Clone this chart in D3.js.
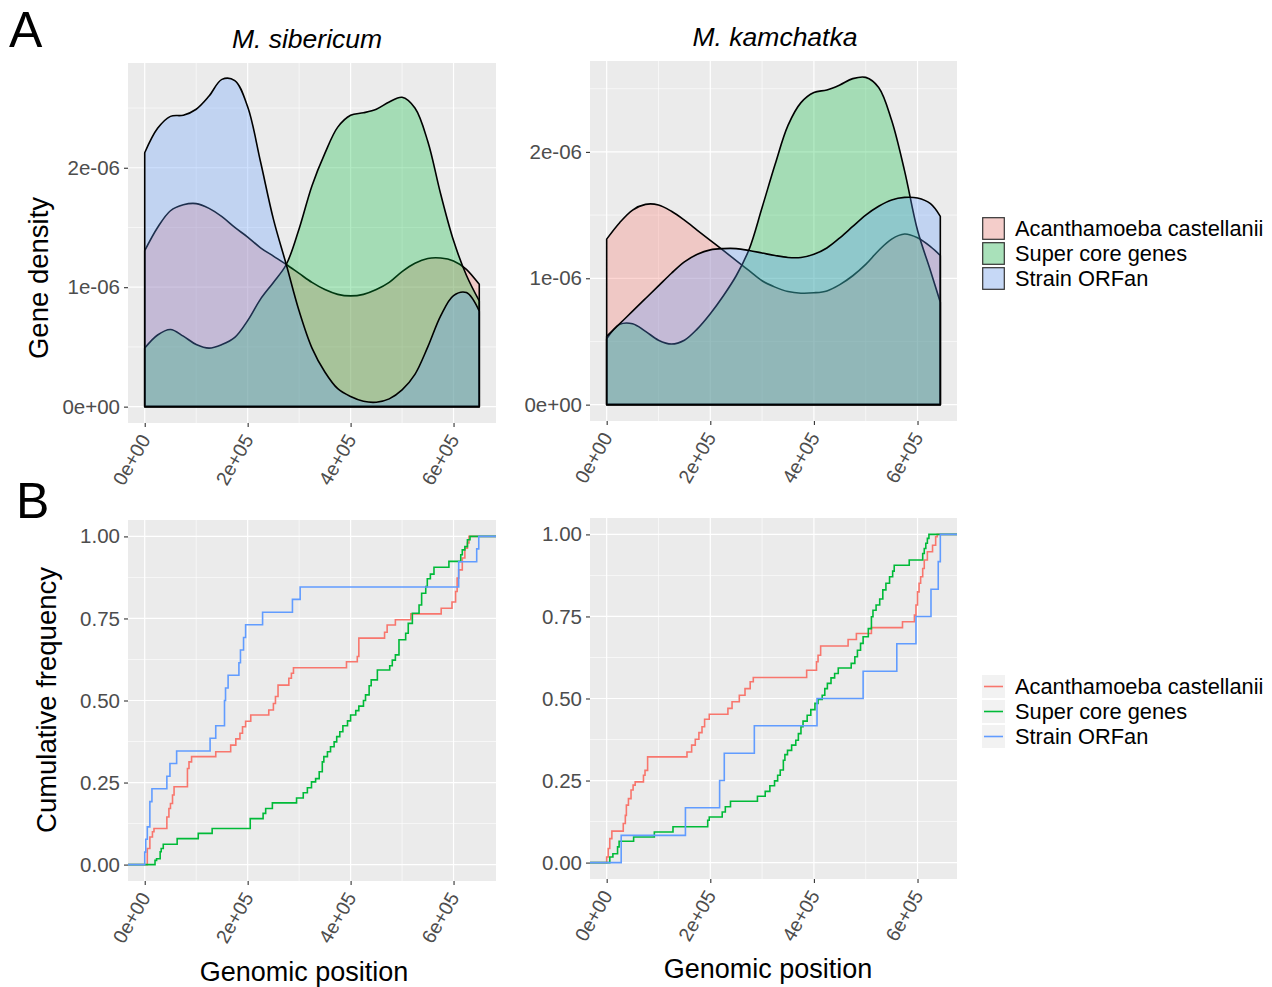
<!DOCTYPE html>
<html>
<head>
<meta charset="utf-8">
<script src="https://cdn.jsdelivr.net/npm/d3@7"></script>
<style>
body { margin: 0; background: #fff; }
text { font-family: "Liberation Sans", Arial, Helvetica, sans-serif; }
</style>
</head>
<body>
<script>
// groups and their ggplot colours
var groups = ["Acanthamoeba castellanii", "Super core genes", "Strain ORFan"];
var colors = ["#F8766D", "#00BA38", "#619CFF"];

// genome lengths, kb
var sibLength = 650;
var kamLength = 644;

// gene density along the genome (position kb, density x 1e-6)
var sibPos = [0,25,50,75,100,125,150,175,200,225,250,275,300,325,350,375,400,425,450,475,500,525,550,575,600,625,650];
var sibAcanth = [1.306,1.50,1.64,1.69,1.70,1.66,1.59,1.50,1.42,1.33,1.26,1.19,1.115,1.04,0.98,0.94,0.927,0.94,0.98,1.04,1.13,1.20,1.24,1.244,1.22,1.15,1.025];
var sibCore   = [0.49,0.60,0.646,0.59,0.52,0.49,0.52,0.58,0.72,0.90,1.04,1.19,1.49,1.85,2.12,2.34,2.44,2.46,2.49,2.55,2.59,2.50,2.22,1.78,1.39,1.10,0.885];
var sibOrfan  = [2.126,2.33,2.43,2.44,2.49,2.60,2.74,2.73,2.51,2.05,1.57,1.19,0.80,0.49,0.29,0.15,0.085,0.045,0.037,0.065,0.14,0.27,0.50,0.76,0.93,0.955,0.80];

var kamPos = [0,25,50,75,100,125,150,175,200,225,250,275,300,325,350,375,400,425,450,475,500,525,550,575,600,625,644];
var kamAcanth = [1.31,1.44,1.54,1.585,1.58,1.53,1.46,1.38,1.30,1.22,1.14,1.06,0.98,0.93,0.895,0.882,0.885,0.90,0.95,1.02,1.11,1.22,1.31,1.35,1.32,1.25,1.18];
var kamCore   = [0.52,0.635,0.64,0.58,0.51,0.48,0.51,0.60,0.72,0.86,1.02,1.23,1.56,1.90,2.21,2.39,2.47,2.49,2.53,2.58,2.59,2.51,2.25,1.85,1.38,1.06,0.81];
var kamOrfan  = [0.54,0.64,0.74,0.84,0.94,1.04,1.13,1.19,1.225,1.235,1.235,1.22,1.20,1.18,1.165,1.165,1.19,1.24,1.32,1.41,1.50,1.57,1.62,1.64,1.635,1.59,1.49];

// cumulative frequency steps: [position kb, cumulative fraction after the step]
var sibAcanthSteps = [[5,0.049],[10,0.084],[15,0.10],[18,0.11],[43,0.145],[47,0.171],[50,0.186],[54,0.212],[57,0.237],[83,0.293],[86,0.313],[91,0.329],[138,0.344],[167,0.364],[177,0.383],[185,0.40],[190,0.42],[196,0.437],[206,0.456],[241,0.471],[250,0.491],[254,0.512],[259,0.547],[280,0.568],[285,0.583],[289,0.60],[392,0.618],[413,0.634],[416,0.69],[466,0.708],[471,0.73],[487,0.746],[517,0.764],[576,0.781],[597,0.80],[604,0.832],[607,0.873],[610,0.898],[617,0.934],[622,0.964],[627,0.98],[630,1.0]];
var sibCoreSteps = [[20,0.013],[23,0.018],[30,0.039],[32,0.049],[36,0.062],[63,0.079],[104,0.095],[131,0.11],[205,0.14],[230,0.156],[235,0.171],[248,0.188],[295,0.203],[308,0.219],[316,0.234],[324,0.252],[332,0.262],[339,0.283],[345,0.313],[348,0.329],[355,0.344],[361,0.359],[368,0.374],[373,0.39],[379,0.405],[385,0.423],[394,0.438],[400,0.456],[410,0.469],[416,0.483],[425,0.50],[429,0.517],[436,0.545],[440,0.563],[452,0.593],[476,0.606],[481,0.623],[487,0.639],[494,0.685],[507,0.705],[512,0.735],[520,0.766],[533,0.791],[538,0.827],[546,0.847],[549,0.871],[555,0.885],[562,0.906],[591,0.924],[614,0.944],[617,0.959],[622,0.969],[627,0.99],[632,1.0]];
var sibOrfanSteps = [[0,0.038],[2,0.077],[5,0.115],[10,0.192],[14,0.231],[43,0.269],[49,0.308],[62,0.346],[127,0.385],[138,0.423],[155,0.5],[157,0.538],[162,0.577],[183,0.615],[186,0.654],[192,0.692],[196,0.731],[229,0.769],[287,0.808],[302,0.846],[610,0.923],[645,0.962],[649,1.0]];

var kamAcanthSteps = [[0,0.017],[3,0.043],[6,0.073],[10,0.096],[32,0.119],[36,0.144],[38,0.175],[42,0.195],[47,0.221],[51,0.236],[55,0.246],[71,0.266],[74,0.281],[79,0.322],[155,0.337],[164,0.358],[171,0.376],[178,0.396],[184,0.414],[189,0.437],[198,0.452],[234,0.47],[242,0.49],[256,0.51],[267,0.53],[277,0.551],[283,0.564],[386,0.586],[405,0.612],[408,0.632],[413,0.66],[466,0.68],[482,0.698],[511,0.716],[571,0.734],[594,0.754],[597,0.785],[600,0.825],[603,0.851],[606,0.871],[610,0.896],[613,0.922],[619,0.947],[629,0.967],[635,0.993],[638,1.0]];
var kamCoreSteps = [[6,0.017],[12,0.027],[21,0.048],[24,0.065],[52,0.078],[92,0.093],[128,0.109],[195,0.129],[198,0.139],[223,0.154],[229,0.17],[239,0.187],[291,0.202],[306,0.217],[315,0.234],[324,0.249],[330,0.266],[335,0.282],[341,0.312],[344,0.329],[349,0.342],[357,0.358],[365,0.373],[370,0.393],[375,0.414],[379,0.431],[387,0.449],[394,0.466],[402,0.485],[408,0.497],[416,0.51],[421,0.53],[426,0.546],[433,0.563],[440,0.576],[447,0.593],[472,0.607],[479,0.627],[484,0.647],[490,0.668],[495,0.688],[505,0.713],[511,0.749],[514,0.769],[520,0.785],[527,0.803],[533,0.831],[539,0.851],[546,0.871],[552,0.888],[555,0.906],[584,0.922],[610,0.942],[613,0.957],[616,0.973],[619,0.988],[622,1.0]];
var kamOrfanSteps = [[28,0.083],[152,0.167],[218,0.25],[227,0.333],[285,0.417],[406,0.5],[495,0.583],[560,0.667],[597,0.75],[626,0.833],[640,0.917],[644,1.0]];

// tick labels
var xTicks = [0, 200, 400, 600];
var xTickLabels = ["0e+00", "2e+05", "4e+05", "6e+05"];
var densTicks = [0, 1, 2];
var densTickLabels = ["0e+00", "1e-06", "2e-06"];
var cumTicks = [0, 0.25, 0.5, 0.75, 1];
var cumTickLabels = ["0.00", "0.25", "0.50", "0.75", "1.00"];

var svg = d3.select("body").append("svg")
    .attr("width", 1272)
    .attr("height", 987);

// panel boxes
var panelA1 = {left: 128, right: 496, top: 63, bottom: 423};
var panelA2 = {left: 590, right: 957, top: 61, bottom: 421};
var panelB1 = {left: 128, right: 496, top: 520, bottom: 881};
var panelB2 = {left: 590, right: 957, top: 518, bottom: 879};

function xScale(p, len) {
  return d3.scaleLinear().domain([-0.05 * len, 1.05 * len]).range([p.left, p.right]);
}

function drawFrame(p, x, y, yMinor, yTicks, yLabels) {
  var g = svg.append("g");
  g.append("rect")
      .attr("x", p.left).attr("y", p.top)
      .attr("width", p.right - p.left).attr("height", p.bottom - p.top)
      .attr("fill", "#EBEBEB");

  var xMinor = [100, 300, 500];
  g.selectAll(".xminor").data(xMinor).enter().append("line")
      .attr("x1", x).attr("x2", x).attr("y1", p.top).attr("y2", p.bottom)
      .attr("stroke", "#fff").attr("stroke-width", 0.6);
  g.selectAll(".yminor").data(yMinor).enter().append("line")
      .attr("y1", y).attr("y2", y).attr("x1", p.left).attr("x2", p.right)
      .attr("stroke", "#fff").attr("stroke-width", 0.6);
  g.selectAll(".xmajor").data(xTicks).enter().append("line")
      .attr("x1", x).attr("x2", x).attr("y1", p.top).attr("y2", p.bottom)
      .attr("stroke", "#fff").attr("stroke-width", 1.2);
  g.selectAll(".ymajor").data(yTicks).enter().append("line")
      .attr("y1", y).attr("y2", y).attr("x1", p.left).attr("x2", p.right)
      .attr("stroke", "#fff").attr("stroke-width", 1.2);

  // x axis, labels turned 60 degrees
  var xa = svg.append("g")
      .attr("transform", "translate(0," + p.bottom + ")")
      .call(d3.axisBottom(x).tickValues(xTicks)
          .tickFormat(function(d, i) { return xTickLabels[i]; }).tickSize(4));
  xa.select(".domain").remove();
  xa.selectAll("line").attr("stroke", "#333").attr("stroke-width", 1.1);
  xa.selectAll("text")
      .attr("x", 0).attr("y", 0).attr("dy", "0.35em")
      .attr("transform", "translate(0,13) rotate(-60)")
      .style("text-anchor", "end")
      .style("font-size", "19.5px")
      .style("font-family", "'Liberation Sans', Arial, sans-serif")
      .attr("fill", "#4D4D4D");

  var ya = svg.append("g")
      .attr("transform", "translate(" + p.left + ",0)")
      .call(d3.axisLeft(y).tickValues(yTicks)
          .tickFormat(function(d, i) { return yLabels[i]; }).tickSize(4).tickPadding(4));
  ya.select(".domain").remove();
  ya.selectAll("line").attr("stroke", "#333").attr("stroke-width", 1.1);
  ya.selectAll("text")
      .style("font-size", "20.5px")
      .style("font-family", "'Liberation Sans', Arial, sans-serif")
      .attr("fill", "#4D4D4D");
}

function drawDensity(p, len, pos, series) {
  var x = xScale(p, len);
  var ymax = d3.max(series, function(s) { return d3.max(s); });
  var y = d3.scaleLinear().domain([-0.05 * ymax, 1.05 * ymax]).range([p.bottom, p.top]);
  drawFrame(p, x, y, [0.5, 1.5, 2.5], densTicks, densTickLabels);

  var area = d3.area()
      .x(function(d) { return x(d[0]); })
      .y0(y(0))
      .y1(function(d) { return y(d[1]); })
      .curve(d3.curveCatmullRom.alpha(0.5));

  series.forEach(function(vals, i) {
    var pts = pos.map(function(v, j) { return [v, vals[j]]; });
    svg.append("path")
        .datum(pts)
        .attr("d", area)
        .attr("fill", colors[i])
        .attr("fill-opacity", 0.3)
        .attr("stroke", "#000")
        .attr("stroke-width", 1.6)
        .attr("stroke-linejoin", "round");
  });
}

function drawEcdf(p, len, series) {
  var x = xScale(p, len);
  var y = d3.scaleLinear().domain([-0.05, 1.05]).range([p.bottom, p.top]);
  drawFrame(p, x, y, [0.125, 0.375, 0.625, 0.875], cumTicks, cumTickLabels);

  var line = d3.line()
      .x(function(d) { return x(d[0]); })
      .y(function(d) { return y(d[1]); })
      .curve(d3.curveStepAfter);

  var dom = x.domain();
  series.forEach(function(steps, i) {
    var pts = [[dom[0], 0]].concat(steps).concat([[dom[1], 1]]);
    svg.append("path")
        .datum(pts)
        .attr("d", line)
        .attr("fill", "none")
        .attr("stroke", colors[i])
        .attr("stroke-width", 1.6);
  });
}

drawDensity(panelA1, sibLength, sibPos, [sibAcanth, sibCore, sibOrfan]);
drawDensity(panelA2, kamLength, kamPos, [kamAcanth, kamCore, kamOrfan]);
drawEcdf(panelB1, sibLength, [sibAcanthSteps, sibCoreSteps, sibOrfanSteps]);
drawEcdf(panelB2, kamLength, [kamAcanthSteps, kamCoreSteps, kamOrfanSteps]);

// titles and labels
function label(txt, x, y, size, opts) {
  opts = opts || {};
  var t = svg.append("text")
      .attr("x", x).attr("y", y)
      .attr("font-size", size)
      .attr("fill", opts.fill || "#000")
      .attr("text-anchor", opts.anchor || "start")
      .text(txt);
  if (opts.italic) t.attr("font-style", "italic");
  if (opts.rotate) t.attr("transform", "rotate(-90," + x + "," + y + ")");
  return t;
}

label("A", 9, 47, 50);
label("B", 16, 518, 50);
label("M. sibericum", 307, 48, 26.5, {italic: true, anchor: "middle"});
label("M. kamchatka", 775, 46, 26.5, {italic: true, anchor: "middle"});
label("Gene density", 48, 278, 27.5, {anchor: "middle", rotate: true});
label("Cumulative frequency", 56, 700, 27.5, {anchor: "middle", rotate: true});
label("Genomic position", 304, 981, 27, {anchor: "middle"});
label("Genomic position", 768, 978, 27, {anchor: "middle"});

// legend for the density plots
var legA = svg.append("g").attr("transform", "translate(982,217)");
groups.forEach(function(gname, i) {
  legA.append("rect")
      .attr("x", 0).attr("y", i * 25).attr("width", 23).attr("height", 23)
      .attr("fill", "#F2F2F2");
  legA.append("rect")
      .attr("x", 0.7).attr("y", i * 25 + 0.7).attr("width", 21.6).attr("height", 21.6)
      .attr("fill", colors[i]).attr("fill-opacity", 0.3)
      .attr("stroke", "#333").attr("stroke-width", 1.2);
  legA.append("text")
      .attr("x", 33).attr("y", i * 25 + 19)
      .attr("font-size", 21.8)
      .text(gname);
});

// legend for the cumulative plots
var legB = svg.append("g").attr("transform", "translate(982,675)");
groups.forEach(function(gname, i) {
  legB.append("rect")
      .attr("x", 0).attr("y", i * 25).attr("width", 23).attr("height", 23)
      .attr("fill", "#F2F2F2");
  legB.append("line")
      .attr("x1", 2).attr("x2", 21).attr("y1", i * 25 + 11.5).attr("y2", i * 25 + 11.5)
      .attr("stroke", colors[i]).attr("stroke-width", 1.6);
  legB.append("text")
      .attr("x", 33).attr("y", i * 25 + 19)
      .attr("font-size", 21.8)
      .text(gname);
});
</script>
</body>
</html>
